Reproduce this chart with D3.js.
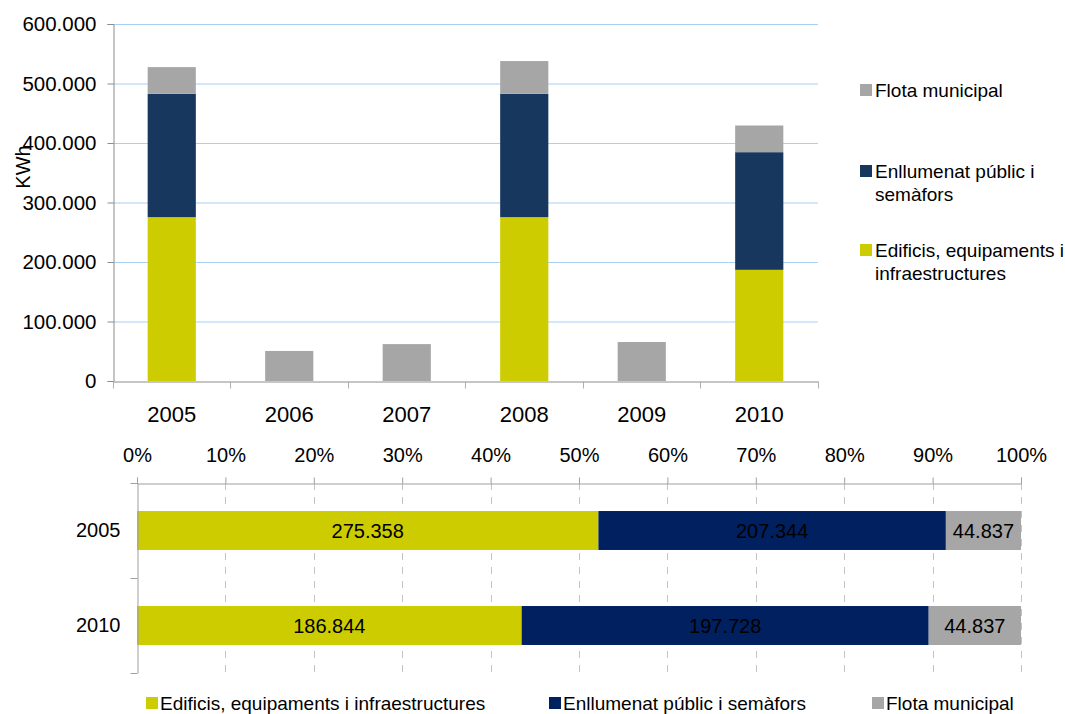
<!DOCTYPE html>
<html>
<head>
<meta charset="utf-8">
<script src="https://cdn.jsdelivr.net/npm/d3@7"></script>
<style>
  body { margin: 0; background: #fff; }
  svg { display: block; font-family: "Liberation Sans", Arial, sans-serif; }
</style>
</head>
<body>
<svg id="chart" width="1065" height="714"></svg>
<script>
// data
const years = ['2005', '2006', '2007', '2008', '2009', '2010'];
const edificis = [275358, 0, 0, 275358, 0, 186844];
const enllumenat = [207344, 0, 0, 207344, 0, 197728];
const flota = [44837, 50500, 62000, 55000, 65500, 44837];
const yTicks = [0, 100000, 200000, 300000, 400000, 500000, 600000];

const compYears = ['2005', '2010'];
const compEdificis = [275358, 186844];
const compEnllumenat = [207344, 197728];
const compFlota = [44837, 44837];
const pctTicks = [0, 0.1, 0.2, 0.3, 0.4, 0.5, 0.6, 0.7, 0.8, 0.9, 1];

const seriesNames = ['Edificis, equipaments i infraestructures', 'Enllumenat públic i semàfors', 'Flota municipal'];

const yellow = '#cccc00', navyTop = '#17375e', navyBottom = '#002060', grey = '#a6a6a6';

const loc = d3.formatLocale({ decimal: ',', thousands: '.', grouping: [3], currency: ['', ''] });
const fmt = loc.format(',d');

const svg = d3.select('#chart');

// ---------- top chart: stacked columns ----------
let m = { left: 113, right: 818, top: 24, bottom: 381 };

let x = d3.scaleBand().domain(years).range([m.left, m.right]).paddingInner(0.59).paddingOuter(0.295);
let y = d3.scaleLinear().domain([0, 600000]).range([m.bottom, m.top]);

// gridlines
svg.append('g').selectAll('line')
  .data(yTicks.slice(1))
  .enter().append('line')
  .attr('x1', m.left).attr('x2', m.right)
  .attr('y1', d => y(d) + 0.5).attr('y2', d => y(d) + 0.5)
  .attr('stroke', '#a9d0f5').attr('stroke-width', 1.2);

const topRows = years.map((yr, i) => ({ year: yr, edificis: edificis[i], enllumenat: enllumenat[i], flota: flota[i] }));
const stack = d3.stack().keys(['edificis', 'enllumenat', 'flota']);
const topColors = [yellow, navyTop, grey];

svg.append('g').selectAll('g')
  .data(stack(topRows))
  .enter().append('g')
  .attr('fill', (d, i) => topColors[i])
  .selectAll('rect')
  .data(d => d)
  .enter().append('rect')
  .attr('x', d => x(d.data.year))
  .attr('y', d => y(d[1]))
  .attr('width', x.bandwidth())
  .attr('height', d => y(d[0]) - y(d[1]));

// y axis
const yAxis = svg.append('g')
  .attr('transform', `translate(${m.left + 0.5},0)`)
  .call(d3.axisLeft(y).tickValues(yTicks).tickFormat(fmt).tickSize(6).tickPadding(11));
yAxis.select('.domain').attr('stroke', '#8c8c8c');
yAxis.selectAll('.tick line').attr('stroke', '#8c8c8c');
yAxis.selectAll('text').attr('font-size', 20.5).attr('fill', '#000').attr('font-family', 'Liberation Sans, Arial');

// x axis
const xAxis = svg.append('g')
  .attr('transform', `translate(0,${m.bottom + 0.5})`)
  .call(d3.axisBottom(x).tickSize(0).tickPadding(25).tickSizeOuter(0));
xAxis.select('.domain').attr('stroke', '#8c8c8c');
xAxis.selectAll('text').attr('font-size', 22).attr('fill', '#000').attr('font-family', 'Liberation Sans, Arial');
const bounds = years.map(d => x(d) - x.step() * 0.295).concat([m.right]);
xAxis.selectAll('.bound')
  .data(bounds)
  .enter().append('line')
  .attr('class', 'bound')
  .attr('x1', d => Math.round(d) + 0.5).attr('x2', d => Math.round(d) + 0.5)
  .attr('y1', 0).attr('y2', 7)
  .attr('stroke', '#b0b0b0');

svg.append('text')
  .attr('transform', 'translate(30,167) rotate(-90)')
  .attr('text-anchor', 'middle')
  .attr('font-size', 20)
  .text('KWh');

// legend top
const topLegend = [
  { color: grey, lines: ['Flota municipal'], y: 90 },
  { color: navyTop, lines: ['Enllumenat públic i', 'semàfors'], y: 171 },
  { color: yellow, lines: ['Edificis, equipaments i', 'infraestructures'], y: 250 }
];
const tl = svg.append('g').selectAll('g').data(topLegend).enter().append('g');
tl.append('rect')
  .attr('x', 860).attr('y', d => d.y - 6).attr('width', 12).attr('height', 12)
  .attr('fill', d => d.color);
tl.append('text')
  .attr('x', 875).attr('y', d => d.y + 7)
  .attr('font-size', 19)
  .selectAll('tspan')
  .data(d => d.lines)
  .enter().append('tspan')
  .attr('x', 875).attr('dy', (d, i) => i ? 22.5 : 0)
  .text(d => d);

// ---------- bottom chart: 100% stacked bars ----------
const b = { left: 137, right: 1021, top: 483, bottom: 673 };
const px = d3.scaleLinear().domain([0, 1]).range([b.left, b.right]);
const py = d3.scaleBand().domain(compYears).range([b.top, b.bottom]).paddingInner(0.59).paddingOuter(0.295);

// dashed grid
svg.append('g').selectAll('line')
  .data(pctTicks.slice(1))
  .enter().append('line')
  .attr('x1', d => Math.round(px(d)) + 0.5).attr('x2', d => Math.round(px(d)) + 0.5)
  .attr('y1', b.top).attr('y2', b.bottom)
  .attr('stroke', '#c4c4c4').attr('stroke-dasharray', '7,7');

const compRows = compYears.map((yr, i) => {
  const tot = compEdificis[i] + compEnllumenat[i] + compFlota[i];
  return { year: yr, tot: tot, edificis: compEdificis[i], enllumenat: compEnllumenat[i], flota: compFlota[i] };
});
const compColors = [yellow, navyBottom, grey];
const keys = ['edificis', 'enllumenat', 'flota'];
const pstack = d3.stack().keys(keys).value((d, k) => d[k] / d.tot);

const layers = svg.append('g').selectAll('g')
  .data(pstack(compRows))
  .enter().append('g')
  .attr('fill', (d, i) => compColors[i]);
layers.selectAll('rect')
  .data(d => d)
  .enter().append('rect')
  .attr('x', d => px(d[0]))
  .attr('y', d => py(d.data.year))
  .attr('width', d => px(d[1]) - px(d[0]))
  .attr('height', py.bandwidth());
layers.each(function (layer) {
  d3.select(this).selectAll('text')
    .data(layer)
    .enter().append('text')
    .attr('x', d => (px(d[0]) + px(d[1])) / 2)
    .attr('y', d => py(d.data.year) + py.bandwidth() / 2 + 7)
    .attr('text-anchor', 'middle')
    .attr('font-size', 20)
    .attr('fill', '#000')
    .text(d => fmt(d.data[layer.key]));
});

// top % axis
const pAxis = svg.append('g')
  .attr('transform', `translate(0,${b.top + 0.5})`)
  .call(d3.axisTop(px).tickValues(pctTicks).tickFormat(d3.format('.0%')).tickSize(6).tickPadding(16));
pAxis.select('.domain').attr('stroke', '#a0a0a0');
pAxis.selectAll('.tick line').attr('stroke', '#a0a0a0');
pAxis.selectAll('text').attr('font-size', 20).attr('fill', '#000').attr('font-family', 'Liberation Sans, Arial');

// left axis
const lAxis = svg.append('g')
  .attr('transform', `translate(${b.left + 0.5},0)`)
  .call(d3.axisLeft(py).tickSize(0).tickPadding(17).tickSizeOuter(0));
lAxis.select('.domain').attr('stroke', '#a0a0a0');
lAxis.selectAll('text').attr('font-size', 20).attr('fill', '#000').attr('font-family', 'Liberation Sans, Arial');
lAxis.selectAll('.bound')
  .data([b.top, (b.top + b.bottom) / 2, b.bottom])
  .enter().append('line')
  .attr('class', 'bound')
  .attr('x1', -7).attr('x2', 0)
  .attr('y1', d => Math.round(d) + 0.5).attr('y2', d => Math.round(d) + 0.5)
  .attr('stroke', '#a0a0a0');

// bottom legend
const legX = [146, 549, 872];
const bl = svg.append('g').selectAll('g')
  .data(seriesNames)
  .enter().append('g');
bl.append('rect')
  .attr('x', (d, i) => legX[i]).attr('y', 697).attr('width', 12).attr('height', 12)
  .attr('fill', (d, i) => compColors[i]);
bl.append('text')
  .attr('x', (d, i) => legX[i] + 14).attr('y', 710)
  .attr('font-size', 19)
  .text(d => d);
</script>
</body>
</html>
